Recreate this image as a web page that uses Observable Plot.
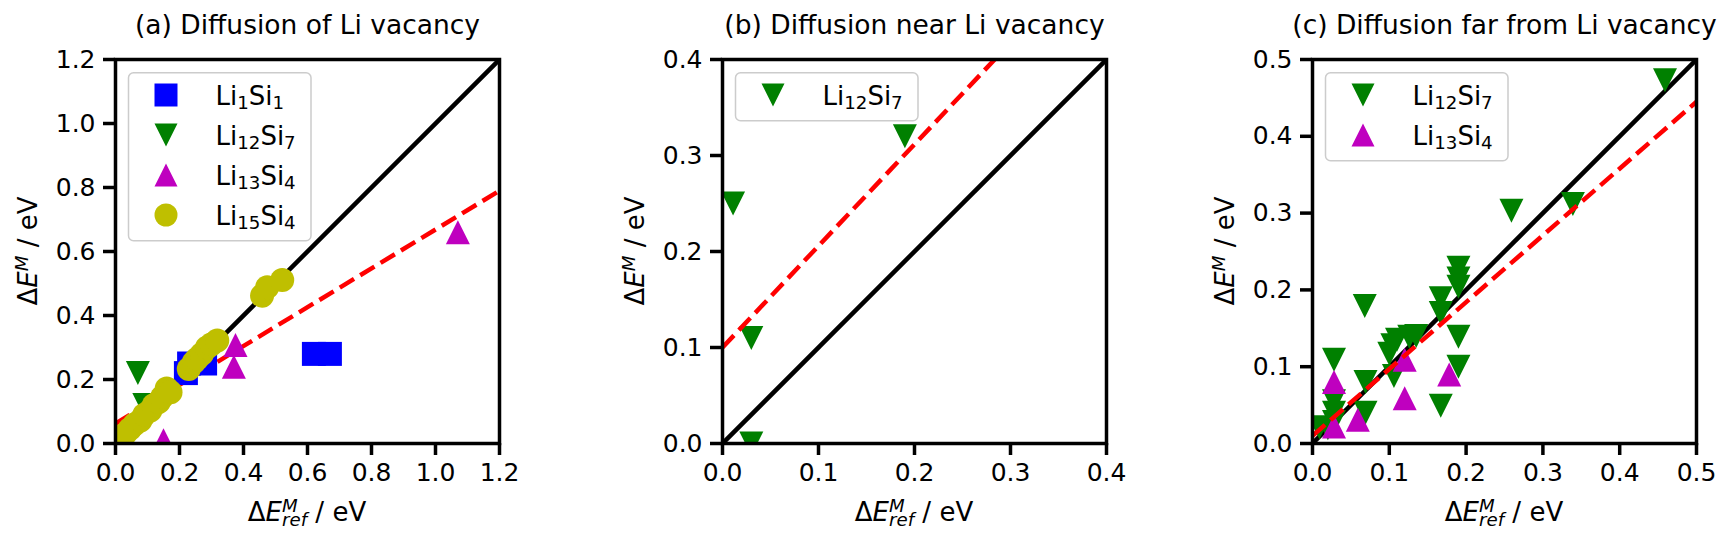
<!DOCTYPE html>
<html>
<head>
<meta charset="utf-8">
<script src="https://cdn.jsdelivr.net/npm/d3@7"></script>
<script src="https://cdn.jsdelivr.net/npm/@observablehq/plot@0.6"></script>
<style>
  body { margin: 0; background: white; }
  #chart { position: relative; width: 1725px; height: 539px; font-family: "DejaVu Sans"; }
  #chart svg { position: absolute; top: 0; }
  #chart text { white-space: pre; }
</style>
</head>
<body>
<div id="chart"></div>
<script>
// ---------- data ----------
// Panel (a) Diffusion of Li vacancy
const aLi1Si1  = [[0.22,0.22],[0.23,0.25],[0.28,0.25],[0.62,0.28],[0.67,0.28]];
const aLi12Si7 = [[0.07,0.22],[0.09,0.12]];
const aLi13Si4 = [[0.15,0.01],[0.37,0.24],[0.375,0.308],[1.07,0.66]];
const aLi15Si4 = [[0.02,0.02],[0.03,0.03],[0.045,0.045],[0.06,0.06],[0.078,0.072],[0.09,0.09],
                  [0.109,0.103],[0.12,0.12],[0.135,0.13],[0.146,0.145],[0.16,0.172],[0.172,0.16],
                  [0.229,0.233],[0.245,0.254],[0.255,0.265],[0.27,0.28],[0.286,0.30],[0.30,0.31],[0.318,0.322],
                  [0.458,0.462],[0.474,0.488],[0.521,0.511]];
const aDiag = [[0,0],[1.2,1.2]];
const aFit  = [[0,0.062],[1.2,0.79]];
const aTicks = [0,0.2,0.4,0.6,0.8,1.0,1.2];

// Panel (b) Diffusion near Li vacancy
const bLi12Si7 = [[0.011,0.25],[0.03,0.11],[0.19,0.32],[0.03,0.0]];
const bDiag = [[0,0],[0.4,0.4]];
const bFit  = [[0,0.1],[0.2835,0.4]];
const bTicks = [0,0.1,0.2,0.3,0.4];

// Panel (c) Diffusion far from Li vacancy
const cLi12Si7 = [[0.009,0.021],[0.02,0.02],[0.028,0.028],[0.028,0.04],[0.028,0.055],[0.028,0.109],
                  [0.068,0.179],[0.069,0.08],[0.069,0.04],
                  [0.10,0.117],[0.104,0.128],[0.11,0.135],[0.106,0.088],[0.126,0.139],[0.135,0.14],
                  [0.167,0.189],[0.167,0.17],[0.167,0.049],
                  [0.19,0.229],[0.19,0.215],[0.19,0.204],[0.19,0.139],[0.19,0.10],
                  [0.259,0.303],[0.339,0.312],[0.459,0.473]];
const cLi13Si4 = [[0.028,0.08],[0.028,0.022],[0.059,0.031],[0.12,0.109],[0.12,0.059],[0.178,0.09]];
const cDiag = [[0,0],[0.5,0.5]];
const cFit  = [[0,0.01],[0.5,0.445]];
const cTicks = [0,0.1,0.2,0.3,0.4,0.5];

// ---------- marker shapes (matplotlib-like) ----------
const rad = s => Math.sqrt(s / Math.PI);
const symSquare = {draw(c, s){ const r = rad(s); c.moveTo(-r,-r); c.lineTo(r,-r); c.lineTo(r,r); c.lineTo(-r,r); c.closePath(); }};
const symDown   = {draw(c, s){ const r = rad(s); c.moveTo(0,r); c.lineTo(-r,-r); c.lineTo(r,-r); c.closePath(); }};
const symUp     = {draw(c, s){ const r = rad(s); c.moveTo(0,-r); c.lineTo(-r,r); c.lineTo(r,r); c.closePath(); }};
const symCircle = {draw(c, s){ const r = rad(s); c.moveTo(r,0); c.arc(0,0,r,0,2*Math.PI); c.closePath(); }};

const S = {
  Li1Si1:  {sym: symSquare, color: "#0000ff", label: ["Li","1","Si","1"]},
  Li12Si7: {sym: symDown,   color: "#008000", label: ["Li","12","Si","7"]},
  Li13Si4: {sym: symUp,     color: "#bf00bf", label: ["Li","13","Si","4"]},
  Li15Si4: {sym: symCircle, color: "#bfbf00", label: ["Li","15","Si","4"]}
};

const FW = 384, FH = 384, TOP = 59, H = 539, ML = 115;
const R = 12;
const LW = 4.5;

function dots(data, key) {
  return Plot.dot(data, {x: d => d[0], y: d => d[1], r: R, symbol: S[key].sym, fill: S[key].color, clip: true});
}
function diagLine(data) {
  return Plot.line(data, {x: d => d[0], y: d => d[1], stroke: "black", strokeWidth: LW, strokeLinecap: "butt", clip: true});
}
function fitLine(data) {
  return Plot.line(data, {x: d => d[0], y: d => d[1], stroke: "#ff0000", strokeWidth: LW,
    strokeDasharray: `${3.7 * LW},${1.6 * LW}`, strokeLinecap: "butt", clip: true});
}

function addXLabel(svg, cx, y) {
  const t = d3.select(svg).append("text").attr("x", cx).attr("y", y)
    .attr("text-anchor", "middle").attr("font-size", 26).attr("font-family", "DejaVu Sans").attr("fill", "black");
  t.append("tspan").text("Δ");
  t.append("tspan").attr("font-style", "italic").text("E");
  t.append("tspan").attr("font-style", "italic").attr("font-size", 18.2).attr("dy", -9).text("M");
  t.append("tspan").attr("font-style", "italic").attr("font-size", 18.2).attr("dy", 14.5).attr("dx", -15.7).text("ref");
  t.append("tspan").attr("dy", -5.5).text(" / eV");
}
function addYLabel(svg, x, cy) {
  const t = d3.select(svg).append("text").attr("transform", `translate(${x},${cy}) rotate(-90)`)
    .attr("text-anchor", "middle").attr("font-size", 26).attr("font-family", "DejaVu Sans").attr("fill", "black");
  t.append("tspan").text("Δ");
  t.append("tspan").attr("font-style", "italic").text("E");
  t.append("tspan").attr("font-style", "italic").attr("font-size", 18.2).attr("dy", -9).text("M");
  t.append("tspan").attr("dy", 9).text(" / eV");
}
function addLegend(svg, x0, y0, keys) {
  const g = d3.select(svg).append("g");
  g.append("rect").attr("x", x0).attr("y", y0).attr("width", 182.5).attr("height", 8 + 40 * keys.length)
    .attr("rx", 5).attr("fill", "white").attr("fill-opacity", 0.8).attr("stroke", "#cccccc").attr("stroke-width", 1.5);
  keys.forEach((k, i) => {
    const cy = y0 + 22.3 + 40 * i;
    g.append("path").attr("transform", `translate(${x0 + 37.5},${cy})`)
      .attr("d", d3.symbol(S[k].sym, Math.PI * 11.5 * 11.5)()).attr("fill", S[k].color);
    const t = g.append("text").attr("x", x0 + 87).attr("y", cy + 9.5).attr("text-anchor", "start")
      .attr("font-size", 26).attr("font-family", "DejaVu Sans").attr("fill", "black");
    S[k].label.forEach((p, j) => {
      const sub = j % 2 === 1;
      t.append("tspan").attr("font-size", sub ? 18.2 : 26).attr("dy", j === 0 ? 0 : (sub ? 4.5 : -4.5)).text(p);
    });
  });
}

function panel({frameLeft, width, max, ticks, title, marks, legendKeys}) {
  const svgLeft = frameLeft - ML;
  const svg = Plot.plot({
    width, height: H,
    marginLeft: ML, marginRight: width - ML - FW, marginTop: TOP, marginBottom: H - TOP - FH,
    style: {fontFamily: "DejaVu Sans", background: "white", color: "black"},
    x: {domain: [0, max], nice: false},
    y: {domain: [0, max], nice: false},
    marks: [
      ...marks,
      Plot.axisX({ticks, tickSize: 12, tickPadding: 8, fontSize: 25, strokeWidth: 3.5, tickFormat: d3.format(".1f"), label: null}),
      Plot.axisY({ticks, tickSize: 12, tickPadding: 8, fontSize: 25, strokeWidth: 3.5, tickFormat: d3.format(".1f"), label: null}),
      Plot.frame({stroke: "black", strokeWidth: 3.5}),
      Plot.text([title], {text: d => d, frameAnchor: "top", dy: -26, lineAnchor: "bottom", fontSize: 26.5, fill: "black"})
    ]
  });
  svg.style.left = svgLeft + "px";
  addXLabel(svg, ML + FW / 2, 520.7);
  addYLabel(svg, ML - 78, TOP + FH / 2);
  addLegend(svg, ML + 13.5, TOP + 13.7, legendKeys);
  document.getElementById("chart").appendChild(svg);
}

panel({
  frameLeft: 115, width: 540, max: 1.2, ticks: aTicks,
  title: "(a) Diffusion of Li vacancy",
  marks: [diagLine(aDiag), fitLine(aFit),
          dots(aLi1Si1, "Li1Si1"), dots(aLi12Si7, "Li12Si7"), dots(aLi13Si4, "Li13Si4"), dots(aLi15Si4, "Li15Si4")],
  legendKeys: ["Li1Si1", "Li12Si7", "Li13Si4", "Li15Si4"]
});
panel({
  frameLeft: 722, width: 540, max: 0.4, ticks: bTicks,
  title: "(b) Diffusion near Li vacancy",
  marks: [diagLine(bDiag), dots(bLi12Si7, "Li12Si7"), fitLine(bFit)],
  legendKeys: ["Li12Si7"]
});
panel({
  frameLeft: 1312, width: 528, max: 0.5, ticks: cTicks,
  title: "(c) Diffusion far from Li vacancy",
  marks: [diagLine(cDiag), dots(cLi12Si7, "Li12Si7"), dots(cLi13Si4, "Li13Si4"), fitLine(cFit)],
  legendKeys: ["Li12Si7", "Li13Si4"]
});
</script>
</body>
</html>
